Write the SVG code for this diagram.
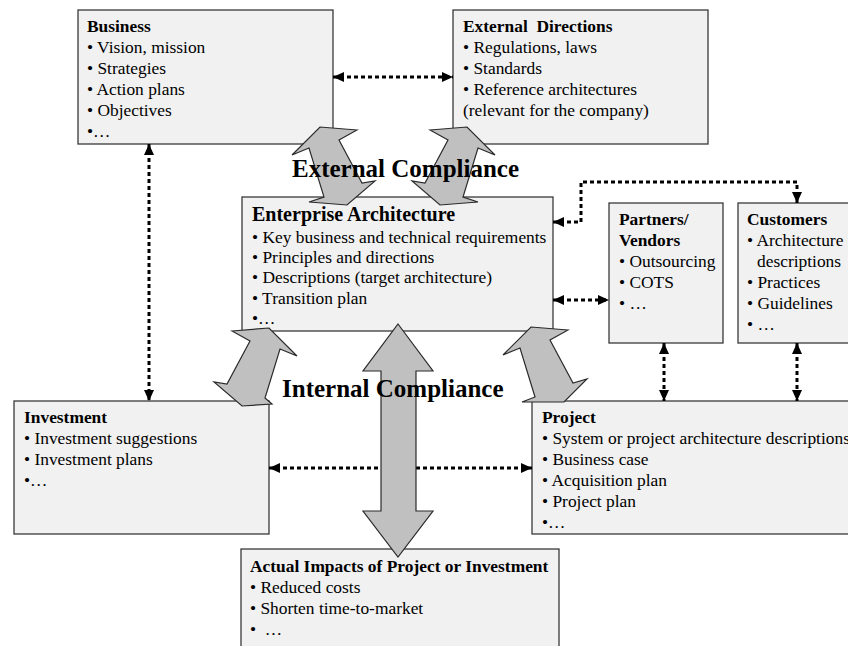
<svg xmlns="http://www.w3.org/2000/svg" width="848" height="646" viewBox="0 0 848 646">
<defs>
<marker id="ah" markerUnits="userSpaceOnUse" markerWidth="11" markerHeight="10" refX="11" refY="5" orient="auto-start-reverse"><path d="M0,0 L11,5 L0,10 z" fill="#000"/></marker>
<style>
.box{fill:#f1f1f1;stroke:#3a3a3a;stroke-width:1.3}
text{font-family:"Liberation Serif","Times New Roman",serif;font-size:17.4px;fill:#000}
.t{font-weight:bold}
.big{font-weight:bold;font-size:25px}
.dot{fill:none;stroke:#000;stroke-width:3;stroke-dasharray:4 3;marker-start:url(#ah);marker-end:url(#ah)}
.arw{fill:#c0c0c0;stroke:#2a2a2a;stroke-width:1.2;stroke-linejoin:miter}
</style>
</defs>
<rect width="848" height="646" fill="#fff"/>

<g id="business">
<rect class="box" x="78" y="10" width="255" height="134"/>
<text class="t" x="87" y="32">Business</text>
<text x="87" y="53">• Vision, mission</text>
<text x="87" y="74">• Strategies</text>
<text x="87" y="95">• Action plans</text>
<text x="87" y="116">• Objectives</text>
<text x="87" y="137">•…</text>
</g>

<g id="external-directions">
<rect class="box" x="453" y="10" width="255" height="134"/>
<text class="t" x="463" y="32" xml:space="preserve">External  Directions</text>
<text x="463" y="53">• Regulations, laws</text>
<text x="463" y="74">• Standards</text>
<text x="463" y="95">• Reference architectures</text>
<text x="463" y="116">(relevant for the company)</text>
</g>

<g id="enterprise-architecture">
<rect class="box" x="242" y="197" width="311" height="134"/>
<text class="t" x="252" y="221" style="font-size:20px">Enterprise Architecture</text>
<text x="252" y="243">• Key business and technical requirements</text>
<text x="252" y="263">• Principles and directions</text>
<text x="252" y="283">• Descriptions (target architecture)</text>
<text x="252" y="304">• Transition plan</text>
<text x="252" y="324">•…</text>
</g>

<g id="partners-vendors">
<rect class="box" x="609" y="203" width="114" height="140"/>
<text class="t" x="619" y="225">Partners/</text>
<text class="t" x="619" y="246">Vendors</text>
<text x="619" y="267">• Outsourcing</text>
<text x="619" y="288">• COTS</text>
<text x="619" y="309">• …</text>
</g>

<g id="customers">
<rect class="box" x="738" y="203" width="120" height="140"/>
<text class="t" x="747" y="225">Customers</text>
<text x="747" y="246">• Architecture</text>
<text x="757" y="267">descriptions</text>
<text x="747" y="288">• Practices</text>
<text x="747" y="309">• Guidelines</text>
<text x="747" y="330">• …</text>
</g>

<g id="investment">
<rect class="box" x="14" y="401" width="255" height="133"/>
<text class="t" x="24" y="423">Investment</text>
<text x="24" y="444">• Investment suggestions</text>
<text x="24" y="465">• Investment plans</text>
<text x="24" y="486">•…</text>
</g>

<g id="project">
<rect class="box" x="532" y="401" width="330" height="133"/>
<text class="t" x="542" y="423">Project</text>
<text x="542" y="444">• System or project architecture descriptions</text>
<text x="542" y="465">• Business case</text>
<text x="542" y="486">• Acquisition plan</text>
<text x="542" y="507">• Project plan</text>
<text x="542" y="528">•…</text>
</g>

<g id="actual-impacts">
<rect class="box" x="241" y="549" width="318" height="110"/>
<text class="t" x="250" y="572">Actual Impacts of Project or Investment</text>
<text x="250" y="593">• Reduced costs</text>
<text x="250" y="614">• Shorten time-to-market</text>
<text x="250" y="635" xml:space="preserve">•  …</text>
</g>

<g id="connectors">
<path class="dot" d="M333,77 H453"/>
<path class="dot" d="M149,144 V401"/>
<path class="dot" d="M269,468 H532"/>
<path class="dot" d="M553,300 H609"/>
<path class="dot" d="M553,222 H581 V182 H797 V203"/>
<path class="dot" d="M664,343 V401"/>
<path class="dot" d="M797,343 V401"/>
</g>

<g id="compliance-arrows">
<polygon class="arw" points="357,130 320,127 292,155 309,148 324,197 309,202 347,205 375,181 362,183 339,140"/>
<polygon class="arw" points="430,130 467,127 495,155 478,148 463,197 478,202 440,205 412,181 425,183 448,140"/>
<polygon class="arw" points="232,331 269,328 297,356 280,349 265,398 272,404 242,406 214,382 227,384 250,341"/>
<polygon class="arw" points="568,330 531,327 503,355 520,348 535,397 522,402 564,402 587,379 573,383 550,340"/>
<polygon class="arw" points="398,324 433,371 416,371 416,511 433,511 398,557 363,511 381,511 381,371 363,371"/>
</g>

<g id="labels">
<text class="big" x="292" y="177">External Compliance</text>
<text class="big" x="282" y="397">Internal Compliance</text>
</g>
</svg>
